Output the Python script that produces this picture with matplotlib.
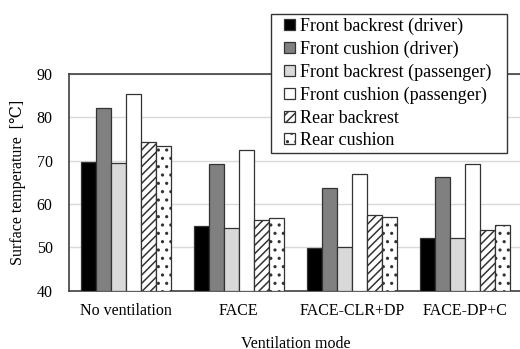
import matplotlib.pyplot as plt
from matplotlib.legend_handler import HandlerPatch
from matplotlib.patches import Rectangle
import numpy as np

plt.rcParams['font.family'] = ['Liberation Serif', 'DejaVu Serif']
plt.rcParams['hatch.linewidth'] = 1.1

modes = ['No ventilation', 'FACE', 'FACE-CLR+DP', 'FACE-DP+C']
series = ['Front backrest (driver)', 'Front cushion (driver)',
          'Front backrest (passenger)', 'Front cushion (passenger)',
          'Rear backrest', 'Rear cushion']
front_back_drv = [69.6, 54.9, 49.8, 52.2]
front_cush_drv = [82.1, 69.2, 63.8, 66.2]
front_back_pas = [69.5, 54.4, 50.2, 52.1]
front_cush_pas = [85.3, 72.5, 66.9, 69.2]
rear_back = [74.2, 56.2, 57.5, 54.0]
rear_cush = [73.5, 56.8, 56.9, 55.2]
values = [front_back_drv, front_cush_drv, front_back_pas,
          front_cush_pas, rear_back, rear_cush]

colors = ['black', '#808080', '#d9d9d9', 'white', 'white', 'white']
hatches = [None, None, None, None, '////', '..']


def square_patch(legend, orig_handle, xdescent, ydescent, width, height, fontsize):
    # small square sitting at the right end of the handle box
    s = height * 1.05
    return Rectangle((width - s - xdescent, -ydescent + (height - s) / 2), s, s)


fig = plt.figure(figsize=(5.2, 3.49), dpi=100)
ax = fig.add_axes([0.1333, 0.167, 0.8696, 0.621])

x = np.arange(len(modes))
w = 0.133
handles = []
for i, (name, vals) in enumerate(zip(series, values)):
    bars = ax.bar(x + (i - 2.5) * w, np.array(vals) - 40, w, bottom=40,
                  color=colors[i], edgecolor='#333333', linewidth=0.9,
                  hatch=hatches[i], label=name, zorder=3)
    handles.append(bars.patches[0])

ax.set_xlim(-0.5, 3.5)
ax.set_ylim(40, 90)
ax.set_yticks([40, 50, 60, 70, 80, 90])
ax.set_xticks(x)
ax.set_xticklabels(modes)
ax.tick_params(axis='both', length=0, labelsize=11.5)
ax.tick_params(axis='y', pad=12)
ax.tick_params(axis='x', pad=9)
ax.yaxis.grid(True, color='#d9d9d9', linewidth=1, zorder=0)
for s in ax.spines.values():
    s.set_color('#404040')
    s.set_linewidth(1.2)

ax.set_ylabel('Surface temperature  [℃]', fontsize=11.5, labelpad=8)
ax.set_xlabel('Ventilation mode', fontsize=11.5, labelpad=12)

leg = fig.legend(handles, series, loc='upper left',
                 bbox_to_anchor=(271 / 520, 1 - 14 / 349, 236 / 520, 0.0),
                 mode='expand',
                 fontsize=13, frameon=True, fancybox=False,
                 handlelength=1.1, handleheight=0.5, handletextpad=0.3,
                 labelspacing=0.31, borderpad=0.22, borderaxespad=0,
                 handler_map={Rectangle: HandlerPatch(patch_func=square_patch)})
leg.get_frame().set_edgecolor('#333333')
leg.get_frame().set_linewidth(1.0)
leg.get_frame().set_alpha(1)

fig.savefig('out.png', dpi=100)
